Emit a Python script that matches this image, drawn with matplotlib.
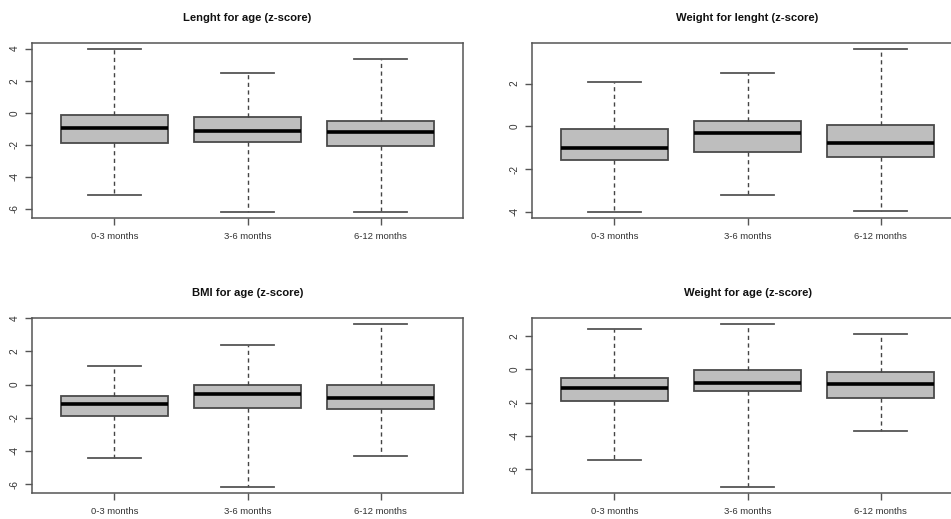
import matplotlib
matplotlib.use("Agg")
import matplotlib.pyplot as plt

plt.rcParams['font.family'] = ['Liberation Sans', 'DejaVu Sans']

categories = ["0-3 months", "3-6 months", "6-12 months"]

titles = ["Lenght for age (z-score)", "Weight for lenght (z-score)",
          "BMI for age (z-score)", "Weight for age (z-score)"]

# per panel: [lower whisker, Q1, median, Q3, upper whisker] for each category
lfa_low = [-5.16, -6.17, -6.17]
lfa_q1 = [-1.88, -1.82, -2.09]
lfa_med = [-0.98, -1.13, -1.21]
lfa_q3 = [-0.12, -0.29, -0.50]
lfa_high = [3.95, 2.47, 3.37]

wfl_low = [-3.98, -3.22, -3.95]
wfl_q1 = [-1.55, -1.22, -1.45]
wfl_med = [-1.00, -0.31, -0.80]
wfl_q3 = [-0.11, 0.27, 0.05]
wfl_high = [2.06, 2.47, 3.59]

bmi_low = [-4.42, -6.14, -4.28]
bmi_q1 = [-1.90, -1.41, -1.49]
bmi_med = [-1.19, -0.55, -0.81]
bmi_q3 = [-0.71, -0.04, 0.00]
bmi_high = [1.11, 2.38, 3.62]

wfa_low = [-5.46, -7.04, -3.73]
wfa_q1 = [-1.90, -1.29, -1.69]
wfa_med = [-1.09, -0.79, -0.87]
wfa_q3 = [-0.50, -0.04, -0.14]
wfa_high = [2.40, 2.70, 2.12]

yticks_list = [[-6, -4, -2, 0, 2, 4], [-4, -2, 0, 2],
               [-6, -4, -2, 0, 2, 4], [-6, -4, -2, 0, 2]]

panels = [
    (lfa_low, lfa_q1, lfa_med, lfa_q3, lfa_high),
    (wfl_low, wfl_q1, wfl_med, wfl_q3, wfl_high),
    (bmi_low, bmi_q1, bmi_med, bmi_q3, bmi_high),
    (wfa_low, wfa_q1, wfa_med, wfa_q3, wfa_high),
]

W, H = 951, 519
fig = plt.figure(figsize=(W / 100, H / 100), dpi=100)

# axes rectangles in pixels: left, top, width, height
rects = [(32, 43, 431, 175), (532, 43, 431, 175),
         (32, 318, 431, 175), (532, 318, 431, 175)]

frame_col = '#555555'
text_col = '#333333'

for i, (panel, rect) in enumerate(zip(panels, rects)):
    l, t, w, h = rect
    ax = fig.add_axes([l / W, 1 - (t + h) / H, w / W, h / H])
    low, q1, med, q3, high = panel
    stats = []
    for j in range(len(categories)):
        stats.append(dict(whislo=low[j], q1=q1[j], med=med[j], q3=q3[j],
                          whishi=high[j], fliers=[], label=categories[j]))
    ax.bxp(stats, positions=[1, 2, 3], widths=0.8, patch_artist=True,
           showfliers=False,
           boxprops=dict(facecolor='#bebebe', edgecolor='#4a4a4a', linewidth=1.3),
           medianprops=dict(color='black', linewidth=2.6, solid_capstyle='butt'),
           whiskerprops=dict(color='#444444', linewidth=1.0, linestyle=(0, (3, 2.5))),
           capprops=dict(color='#555555', linewidth=1.3),
           capwidths=0.4)
    lo = min(low)
    hi = max(high)
    ext = (hi - lo) * 0.04
    ax.set_ylim(lo - ext, hi + ext)
    ax.set_xlim(0.38, 3.62)
    ax.set_yticks(yticks_list[i])
    ax.set_yticklabels([str(v) for v in yticks_list[i]], rotation=90,
                       va='center', fontsize=7.2, color=text_col)
    ax.set_xticks([1, 2, 3])
    ax.set_xticklabels(categories, fontsize=6.8, color=text_col)
    ax.tick_params(axis='both', direction='out', length=5, width=1.0,
                   color=frame_col)
    ax.tick_params(axis='x', pad=5)
    ax.tick_params(axis='y', pad=4)
    for s in ax.spines.values():
        s.set_color(frame_col)
        s.set_linewidth(1.1)
    fig.text((l + w / 2) / W, 1 - (t - 25) / H, titles[i], ha='center',
             va='center', fontsize=8.1, fontweight='bold', color='#111111')

fig.savefig("out.png", dpi=100)
